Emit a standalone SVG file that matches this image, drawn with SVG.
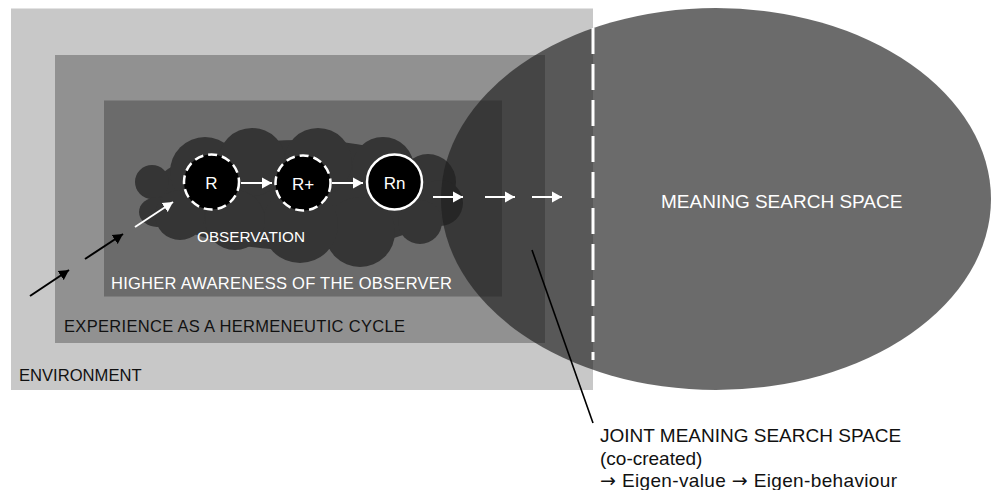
<svg xmlns="http://www.w3.org/2000/svg" width="991" height="490" viewBox="0 0 991 490">
<style>
text{font-family:"Liberation Sans",Arial,sans-serif}
.wt{fill:#ffffff}
.bt{fill:#111111}
.wl{stroke:#ffffff;stroke-width:2;fill:none}
.bl{stroke:#000000;stroke-width:2;fill:none}
.cl{fill:#353535}
.ar{font-family:"DejaVu Sans",sans-serif}
</style>
<defs>
<marker id="wh" markerUnits="userSpaceOnUse" markerWidth="11" markerHeight="12" refX="10" refY="6" orient="auto"><path d="M0,0.5 L10,6 L0,11.5 Z" fill="#ffffff"/></marker>
<marker id="bh" markerUnits="userSpaceOnUse" markerWidth="11" markerHeight="12" refX="10" refY="6" orient="auto"><path d="M0,0.5 L10,6 L0,11.5 Z" fill="#000000"/></marker>
</defs>
<rect width="991" height="490" fill="#ffffff"/>
<g id="environment">
<rect x="11" y="8.5" width="582" height="381.5" fill="#c8c8c8"/>
<text class="bt" x="19" y="381" font-size="16.6">ENVIRONMENT</text>
</g>
<g id="experience">
<rect x="55" y="55" width="490" height="288" fill="#919191"/>
<text class="bt" x="64" y="332" font-size="16.5" textLength="341" lengthAdjust="spacing">EXPERIENCE AS A HERMENEUTIC  CYCLE</text>
</g>
<g id="awareness">
<rect x="104" y="100.5" width="398" height="196" fill="#6b6b6b"/>
</g>
<g id="observation">
<g class="cl">
<ellipse cx="300" cy="195" rx="150" ry="55"/>
<circle cx="152" cy="182" r="17"/>
<ellipse cx="157" cy="212" rx="18" ry="15"/>
<circle cx="205" cy="172" r="35"/>
<circle cx="252" cy="162" r="34"/>
<circle cx="318" cy="162" r="34"/>
<circle cx="383" cy="168" r="31"/>
<circle cx="428" cy="182" r="28"/>
<circle cx="440" cy="203" r="23"/>
<circle cx="420" cy="222" r="22"/>
<circle cx="360" cy="232" r="35"/>
<circle cx="300" cy="225" r="38"/>
<circle cx="235" cy="220" r="30"/>
<circle cx="180" cy="215" r="25"/>
</g>
</g>
<g id="meaning-space">
<ellipse cx="716" cy="199" rx="275" ry="191" fill="#1e1e1e" fill-opacity="0.66"/>
<text class="wt" x="661" y="208" font-size="19">MEANING SEARCH SPACE</text>
</g>
<text class="wt" x="111" y="289" font-size="16.5" textLength="341" lengthAdjust="spacing">HIGHER AWARENESS OF THE OBSERVER</text>
<text class="wt" x="197" y="242" font-size="15.3">OBSERVATION</text>
<g id="R">
<circle cx="211.5" cy="182" r="27.5" fill="#000000" stroke="#ffffff" stroke-width="2.5" stroke-dasharray="9 5"/>
<text class="wt" x="211.5" y="188.5" font-size="17" text-anchor="middle">R</text>
</g>
<g id="Rplus">
<circle cx="303" cy="183" r="27.5" fill="#000000" stroke="#ffffff" stroke-width="2.5" stroke-dasharray="9 5"/>
<text class="wt" x="303" y="189.5" font-size="17" text-anchor="middle">R+</text>
</g>
<g id="Rn">
<circle cx="394.5" cy="182" r="27.5" fill="#000000" stroke="#ffffff" stroke-width="2.5"/>
<text class="wt" x="394.5" y="188.5" font-size="17" text-anchor="middle">Rn</text>
</g>
<g id="connectors">
<line class="wl" x1="241" y1="183" x2="272" y2="183" marker-end="url(#wh)"/>
<line class="wl" x1="332" y1="183" x2="363" y2="183" marker-end="url(#wh)"/>
<line class="wl" x1="433" y1="197" x2="463" y2="197" marker-end="url(#wh)"/>
<line class="wl" x1="485" y1="197" x2="515" y2="197" marker-end="url(#wh)"/>
<line class="wl" x1="532" y1="197" x2="562" y2="197" marker-end="url(#wh)"/>
<line class="wl" x1="135" y1="227" x2="173" y2="202" marker-end="url(#wh)"/>
<line class="bl" x1="30" y1="296" x2="69" y2="270" marker-end="url(#bh)"/>
<line class="bl" x1="85" y1="259" x2="123" y2="234" marker-end="url(#bh)"/>
<line x1="593" y1="28" x2="593" y2="360" stroke="#ffffff" stroke-width="3" stroke-dasharray="26 10"/>
<line x1="532" y1="250" x2="593" y2="423" stroke="#000000" stroke-width="1.6"/>
</g>
<g id="joint-label">
<text class="bt" font-size="19" x="600" y="442">JOINT MEANING SEARCH SPACE</text>
<text class="bt" font-size="19" x="600" y="465">(co-created)</text>
<text class="bt" font-size="19" x="600" y="487" textLength="297" lengthAdjust="spacing"><tspan class="ar">→</tspan> Eigen-value <tspan class="ar">→</tspan> Eigen-behaviour</text>
</g>
</svg>
